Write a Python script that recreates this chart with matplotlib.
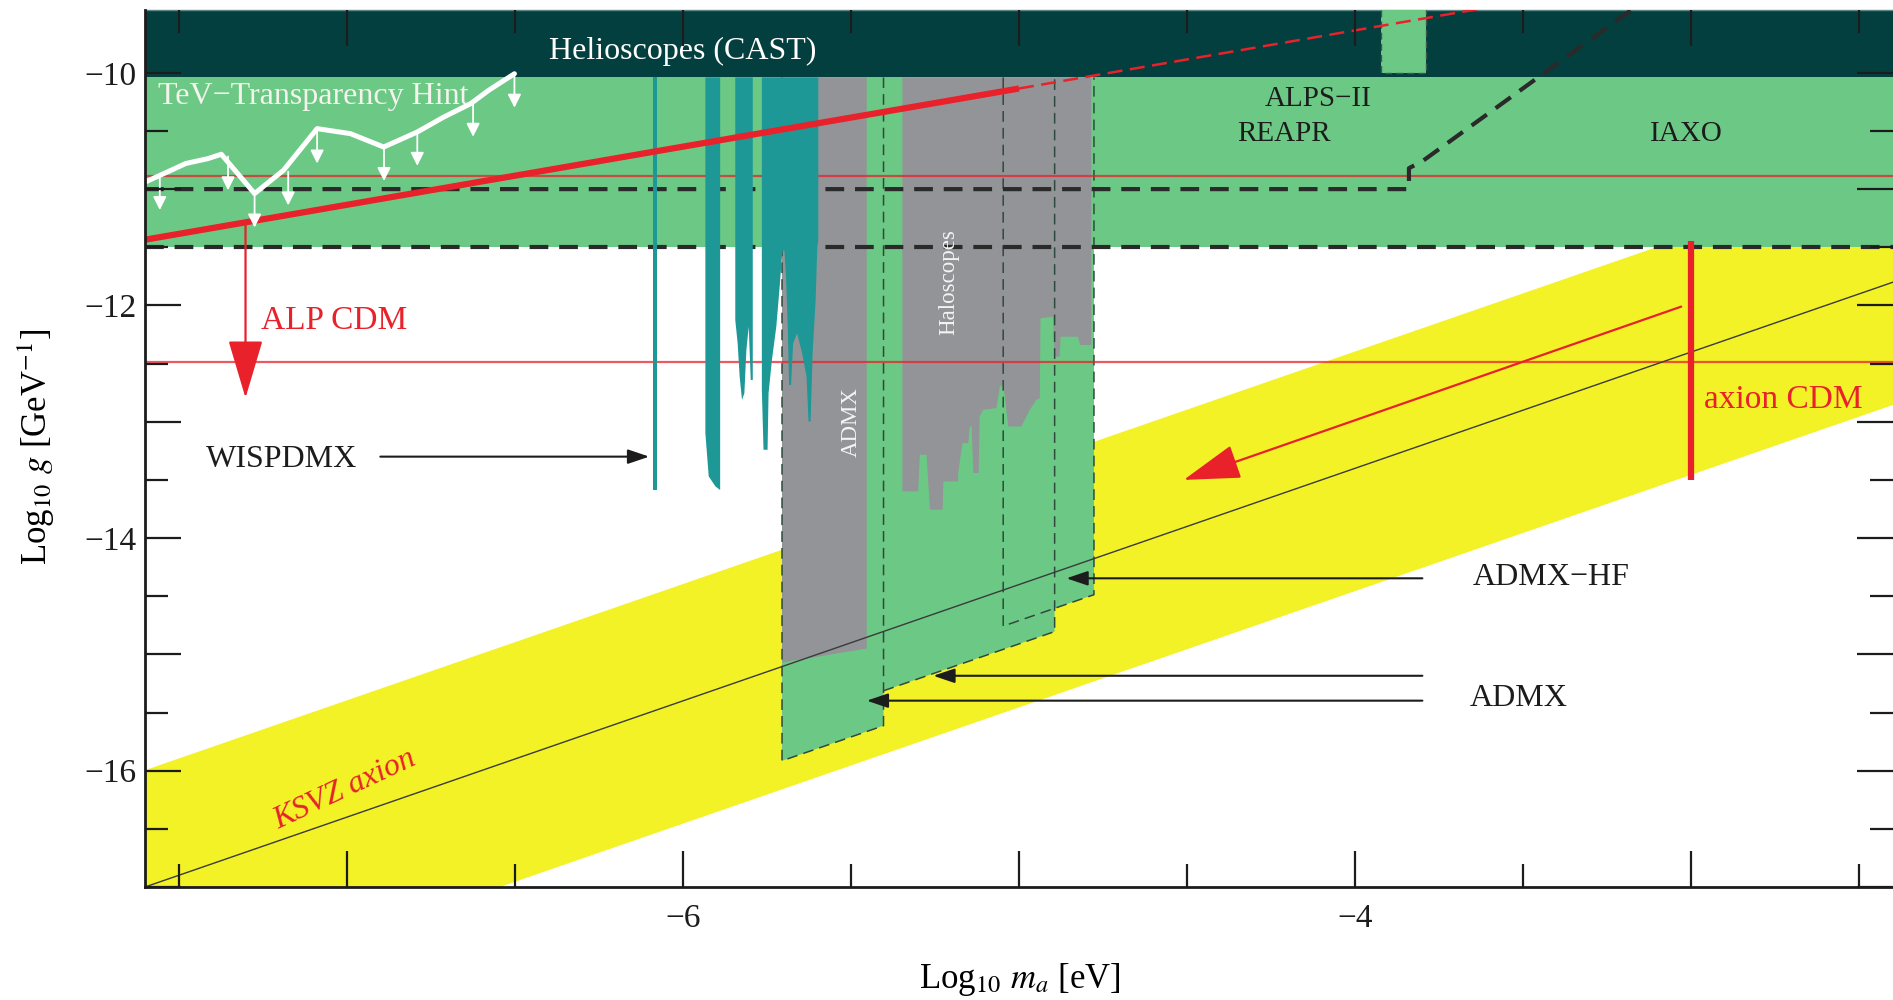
import matplotlib.pyplot as plt
import numpy as np
from matplotlib.patches import Polygon, FancyArrowPatch

plt.rcParams['font.family'] = ['Liberation Serif', 'DejaVu Serif']
plt.rcParams['mathtext.fontset'] = 'stix'

# axis ranges: log10(m_a / eV) vs log10(g / GeV^-1)
x_range = (-7.6, -2.4)
y_range = (-17.0, -9.46)
xticks_major = [-7, -6, -5, -4, -3]
xtick_labels = ['', '\u22126', '', '\u22124', '']
xticks_minor = [-7.5, -6.5, -5.5, -4.5, -3.5, -2.5]
yticks_major = [-17, -16, -15, -14, -13, -12, -11, -10]
ytick_labels = ['', '\u221216', '', '\u221214', '', '\u221212', '', '\u221210']
yticks_minor = [-16.5, -15.5, -14.5, -13.5, -12.5, -11.5, -10.5]

# helioscope / light-shining-through-wall reach
cast_limit = -10.04
iaxo_reach = -11.5
alps_box_x = [-3.923, -3.789]
alps_box_y = [-10.0, -9.46]
ld_x = [-7.6, -3.84, -3.84, -3.80, -3.15]
ld_y = [-11.0, -11.0, -10.82, -10.76, -9.40]

# ALP dark matter line (solid part and extrapolation)
alp_x = [-7.6, -5.0]
alp_y = [-11.435, -10.135]
alp_ext_x = [-5.0, -3.5]
alp_ext_y = [-10.135, -9.385]

# thin red reference levels
red_levels = [-10.89, -12.49]

# KSVZ line and QCD axion band
band_x = [-7.6, -2.4]
ksvz_y = [-17.0, -11.8]
band_lo = [-18.05, -12.85]
band_hi = [-15.99, -10.79]

# TeV transparency hint
tev_x = [-7.60, -7.533, -7.479, -7.413, -7.373, -7.274, -7.188, -7.088,
         -6.989, -6.890, -6.790, -6.711, -6.631, -6.578, -6.501]
tev_y = [-10.94, -10.852, -10.780, -10.738, -10.700, -11.038, -10.838, -10.480,
         -10.523, -10.638, -10.509, -10.380, -10.265, -10.151, -10.008]
tev_arrow_x = [-7.556, -7.353, -7.274, -7.174, -7.088, -6.889, -6.790, -6.624, -6.501]
tev_arrow_y = [-10.89, -10.72, -11.04, -10.85, -10.49, -10.64, -10.51, -10.26, -10.01]

# WISPDMX exclusion (teal)
wisp_a_x = [-6.090, -6.090, -6.077, -6.077]
wisp_a_y = [-10.04, -13.585, -13.585, -10.04]
wisp_b_x = [-5.933, -5.933, -5.923, -5.903, -5.890, -5.889, -5.889]
wisp_b_y = [-10.04, -13.098, -13.47, -13.556, -13.585, -13.585, -10.04]
wisp_c_x = [-5.844, -5.844, -5.837, -5.831, -5.824, -5.817, -5.811, -5.804,
            -5.798, -5.792, -5.792]
wisp_c_y = [-10.04, -12.125, -12.326, -12.612, -12.812, -12.755, -12.383, -12.183,
            -12.641, -12.641, -10.04]
wisp_d_x = [-5.765, -5.765, -5.760, -5.748, -5.745, -5.735, -5.722, -5.712, -5.704,
            -5.698, -5.693, -5.688, -5.684, -5.678, -5.672, -5.660, -5.645, -5.632,
            -5.626, -5.620, -5.614, -5.605, -5.600, -5.597, -5.597]
wisp_d_y = [-10.04, -12.726, -13.241, -13.241, -12.755, -12.469, -12.183, -11.839,
            -11.539, -11.525, -11.754, -12.183, -12.684, -12.684, -12.326, -12.240,
            -12.412, -12.612, -12.998, -12.998, -12.412, -11.954, -11.496, -11.439,
            -10.04]

# ADMX projected reach (green blocks with sloped floors)
admx1_x = [-5.705, -5.705, -5.403, -5.403]
admx1_y = [-10.04, -15.915, -15.613, -10.04]
admx2_x = [-5.455, -5.455, -4.894, -4.894]
admx2_y = [-10.04, -15.365, -14.804, -10.04]
admxhf_x = [-5.047, -5.047, -4.777, -4.777]
admxhf_y = [-10.04, -14.757, -14.487, -10.04]

# existing haloscope exclusions (grey)
admx_bar_x = [-5.705, -5.705, -5.453, -5.453]
admx_bar_y = [-10.04, -15.07, -14.95, -10.04]
halo_x = [-5.347, -5.347, -5.300, -5.295, -5.275, -5.265, -5.227, -5.225, -5.181,
          -5.181, -5.168, -5.151, -5.146, -5.141, -5.136, -5.120, -5.117, -5.107,
          -5.067, -5.057, -5.047, -5.042, -5.032, -4.993, -4.968, -4.948, -4.938,
          -4.936, -4.899, -4.894, -4.879, -4.876, -4.825, -4.818, -4.785, -4.785]
halo_y = [-10.04, -13.599, -13.599, -13.284, -13.284, -13.756, -13.756, -13.513,
          -13.513, -13.441, -13.184, -13.184, -13.041, -13.041, -13.441, -13.441,
          -12.955, -12.898, -12.883, -12.698, -12.683, -12.784, -13.041, -13.041,
          -12.898, -12.812, -12.798, -12.111, -12.097, -12.440, -12.440, -12.269,
          -12.269, -12.340, -12.340, -10.04]

# axion CDM marker
axion_cdm_x = -3.0
axion_cdm_y = [-11.45, -13.50]

DARK = '#033f3e'
GREEN = '#6cc985'
GREY = '#939497'
TEAL = '#1e9797'
YELLOW = '#f2f227'
RED = '#e8212b'
INK = '#1c1c1c'

fig = plt.figure(figsize=(18.93, 10), dpi=100)
ax = fig.add_axes([145 / 1893, 0.113, 1 - 145 / 1893, 0.877])
ax.set_xlim(*x_range)
ax.set_ylim(*y_range)

# background bands
ax.fill_between(band_x, band_lo, band_hi, color=YELLOW, lw=0, zorder=1)
ax.axhspan(iaxo_reach, cast_limit, color=GREEN, lw=0, zorder=2)
ax.axhspan(cast_limit, y_range[1] + 1, color=DARK, lw=0, zorder=2)
ax.fill_between(alps_box_x, alps_box_y[0], alps_box_y[1], color=GREEN, lw=0, zorder=3)
ax.plot([alps_box_x[0], alps_box_x[0], alps_box_x[1], alps_box_x[1]],
        [alps_box_y[1], alps_box_y[0], alps_box_y[0], alps_box_y[1]],
        color='#3d5a4a', lw=1, ls=(0, (5, 3)), zorder=3)

# projected ADMX blocks
for bx, by in [(admx1_x, admx1_y), (admx2_x, admx2_y), (admxhf_x, admxhf_y)]:
    ax.add_patch(Polygon(np.column_stack([bx, by]), closed=True, fc=GREEN, ec='none', zorder=3))

# grey exclusions
ax.add_patch(Polygon(np.column_stack([admx_bar_x, admx_bar_y]), fc=GREY, ec='none', zorder=4))
ax.add_patch(Polygon(np.column_stack([halo_x, halo_y]), fc=GREY, ec='none', zorder=4))

# dashed outlines of the ADMX blocks
edge = dict(color='#2f4a3c', lw=1.1, ls=(0, (7, 4)), zorder=5)
ax.plot(admx1_x, admx1_y, **edge)
ax.plot([admx1_x[2], admx2_x[2], admx2_x[3]],
        [admx2_y[1] + (admx1_x[2] - admx2_x[1]), admx2_y[2], admx2_y[3]], **edge)
ax.plot(admxhf_x, admxhf_y, **edge)

# reference lines
for lev in red_levels:
    ax.axhline(lev, color=RED, lw=1.6, alpha=0.75, zorder=5)
ax.axhline(iaxo_reach, color='#2a2a2a', lw=3, ls=(0, (4.5, 2.6)), zorder=5)
ax.plot(ld_x, ld_y, color='#2a2a2a', lw=3, ls=(0, (4.5, 2.6)), zorder=5)
ax.plot(band_x, ksvz_y, color='#3a3a3a', lw=1.0, zorder=5)

# WISPDMX
for wx, wy in [(wisp_a_x, wisp_a_y), (wisp_b_x, wisp_b_y),
               (wisp_c_x, wisp_c_y), (wisp_d_x, wisp_d_y)]:
    ax.add_patch(Polygon(np.column_stack([wx, wy]), fc=TEAL, ec='none', zorder=6))

# ALP CDM line
ax.plot(alp_x, alp_y, color=RED, lw=4.5, solid_capstyle='butt', zorder=7)
ax.plot(alp_ext_x, alp_ext_y, color=RED, lw=1.8, ls=(0, (6, 3)), zorder=7)

# TeV transparency hint
ax.plot(tev_x, tev_y, color='white', lw=3.6, solid_joinstyle='round',
        solid_capstyle='round', zorder=7)
for tx, ty in zip(tev_arrow_x, tev_arrow_y):
    ax.add_patch(FancyArrowPatch((tx, ty), (tx, ty - 0.29),
                                 arrowstyle='-|>,head_length=0.8,head_width=0.4',
                                 mutation_scale=10, color='white', lw=1.3,
                                 shrinkA=0, shrinkB=0, zorder=7))

# axion CDM marker and arrows
ax.plot([axion_cdm_x, axion_cdm_x], axion_cdm_y, color=RED, lw=4.5,
        solid_capstyle='butt', zorder=7)


def arrow(p0, p1, color, hl, hw, lw, ms=20):
    ax.add_patch(FancyArrowPatch(p0, p1, arrowstyle=f'-|>,head_length={hl},head_width={hw}',
                                 mutation_scale=ms, color=color, lw=lw,
                                 shrinkA=0, shrinkB=0, zorder=8))


arrow((-7.301, -11.285), (-7.301, -12.795), RED, 1.85, 0.55, 1.6)
arrow((-3.03, -12.01), (-4.51, -13.50), RED, 1.8, 0.55, 1.6)
arrow((-6.90, -13.30), (-6.10, -13.30), INK, 0.65, 0.22, 1.5)
arrow((-3.80, -14.346), (-4.859, -14.346), INK, 0.65, 0.22, 1.5)
arrow((-3.80, -15.184), (-5.255, -15.184), INK, 0.65, 0.22, 1.5)
arrow((-3.80, -15.398), (-5.453, -15.398), INK, 0.65, 0.22, 1.5)

# labels
txt = dict(va='baseline', ha='left', zorder=9)
ax.text(-6.0, -9.879, 'Helioscopes (CAST)', color='white', fontsize=23,
        ha='center', va='baseline', zorder=9)
ax.text(-7.562, -10.265, 'TeV\u2212Transparency Hint', color='#f4f4ec', fontsize=23, **txt)
ax.text(-4.270, -10.288, 'ALPS\u2212II', color=INK, fontsize=21, **txt)
ax.text(-4.352, -10.586, 'REAPR', color=INK, fontsize=21, **txt)
ax.text(-3.123, -10.586, 'IAXO', color=INK, fontsize=21, **txt)
ax.text(-7.254, -12.20, 'ALP CDM', color=RED, fontsize=24, **txt)
ax.text(-7.418, -13.385, 'WISPDMX', color=INK, fontsize=23, **txt)
ax.text(-3.65, -14.405, 'ADMX\u2212HF', color=INK, fontsize=23, **txt)
ax.text(-3.659, -15.44, 'ADMX', color=INK, fontsize=23, **txt)
ax.text(-2.962, -12.883, 'axion CDM', color=RED, fontsize=24, **txt)
ax.text(-5.50, -13.0, 'ADMX', color='#f4f4f4', fontsize=16.5, rotation=90,
        ha='center', va='center', zorder=9)
ax.text(-5.208, -11.80, 'Haloscopes', color='#f4f4f4', fontsize=16.5, rotation=90,
        ha='center', va='center', zorder=9)
ax.text(-7.204, -16.50, 'KSVZ axion', color=RED, fontsize=23, style='italic',
        rotation=25, rotation_mode='anchor', ha='left', va='baseline', zorder=9)

# axes decoration
ax.set_xticks(xticks_major)
ax.set_xticklabels(xtick_labels)
ax.set_xticks(xticks_minor, minor=True)
ax.set_yticks(yticks_major)
ax.set_yticklabels(ytick_labels)
ax.set_yticks(yticks_minor, minor=True)
ax.tick_params(which='major', direction='in', length=26, width=1.6, top=True,
               right=True, labelsize=24, colors=INK)
ax.tick_params(which='minor', direction='in', length=16.5, width=1.6, top=True,
               right=True, colors=INK)
ax.tick_params(axis='x', which='major', pad=12)
ax.tick_params(axis='y', which='major', pad=6)
ax.xaxis.set_zorder(20)
ax.yaxis.set_zorder(20)
for side in ['left', 'bottom']:
    ax.spines[side].set_linewidth(2)
    ax.spines[side].set_color(INK)
    ax.spines[side].set_zorder(20)
ax.spines['top'].set_color('#5d8886')
ax.spines['top'].set_linewidth(1)
ax.spines['right'].set_visible(False)

fig.text(1020 / 1893, 0.02, r'Log$_{10}$ $m_a$ [eV]', fontsize=25,
         ha='center', va='center')
fig.text(36 / 1893, 1 - 447 / 1000, r'Log$_{10}$ $g$ [GeV$^{-1}$]', fontsize=25,
         rotation=90, ha='center', va='center')

fig.savefig('out.png', dpi=100)
